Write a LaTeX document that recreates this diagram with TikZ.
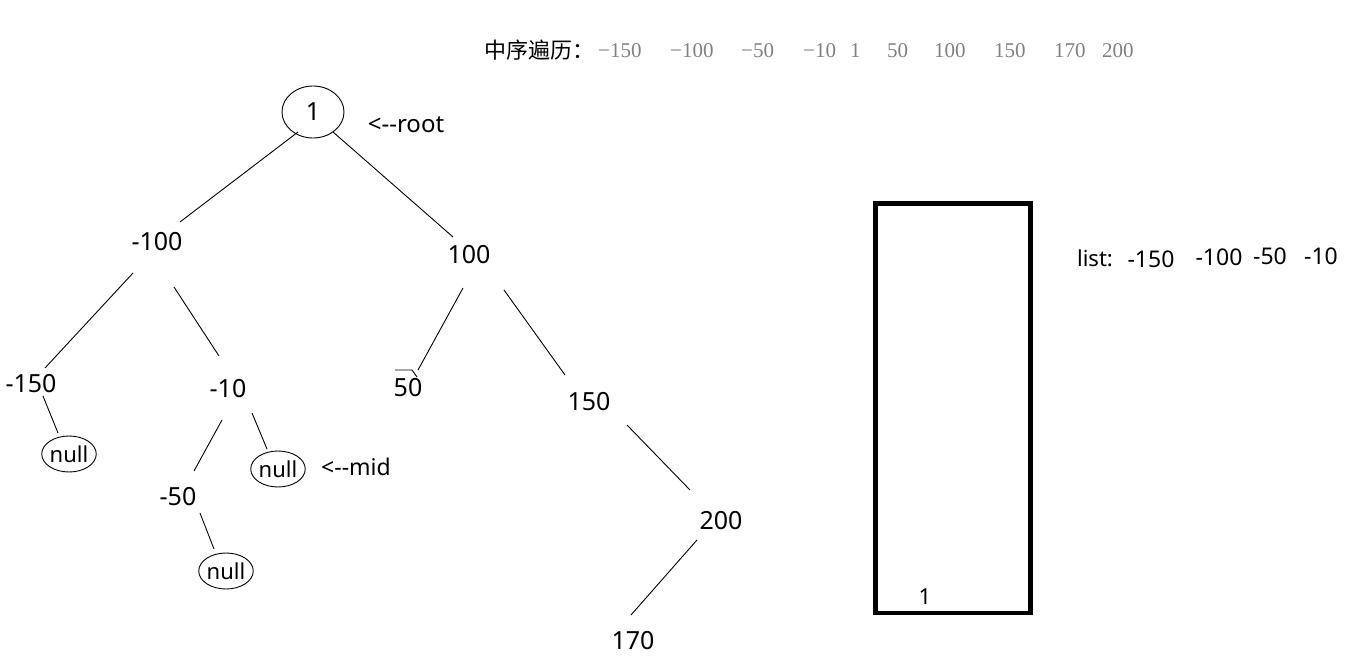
\documentclass[tikz,border=0pt]{standalone}
\usepackage{fontspec}
\setmainfont{Noto Sans}
\newfontfamily\cjk{Noto Sans CJK SC}
\newfontfamily\serifnum{Liberation Serif}
\usetikzlibrary{calc,shapes.geometric}
\definecolor{numgray}{RGB}{128,128,128}
\begin{document}
\begin{tikzpicture}[x=1pt,y=-1pt,
  lbl/.style={inner sep=0pt,font=\fontsize{25}{28}\selectfont},
  nullnode/.style={draw,ellipse,line width=0.9pt,minimum width=48pt,minimum height=36pt,inner sep=0pt,font=\fontsize{22}{26}\selectfont},
  note/.style={inner sep=0pt,font=\fontsize{23}{27}\selectfont},
  edge/.style={line width=0.9pt},
  topnum/.style={inner sep=0pt,anchor=west,text=numgray,font=\serifnum\fontsize{21}{25}\selectfont},
  listnum/.style={inner sep=0pt,font=\fontsize{23}{27}\selectfont}]
\useasboundingbox (0,0) rectangle (1345,660);

% heading
\node[inner sep=0pt,anchor=west,font=\cjk\fontsize{22}{26}\selectfont] (head) at (484,50) {中序遍历：};
\node[topnum] (t1) at (598,51) {−150};
\node[topnum] (t2) at (670,51) {−100};
\node[topnum] (t3) at (741,51) {−50};
\node[topnum] (t4) at (803,51) {−10};
\node[topnum] (t5) at (850,51) {1};
\node[topnum] (t6) at (887,51) {50};
\node[topnum] (t7) at (934,51) {100};
\node[topnum] (t8) at (994,51) {150};
\node[topnum] (t9) at (1054,51) {170};
\node[topnum] (t10) at (1102,51) {200};

% tree nodes
\node[draw,ellipse,line width=0.9pt,minimum width=62pt,minimum height=52pt,inner sep=0pt,font=\fontsize{25}{28}\selectfont] (root) at (313,112) {1};
\node[note,font=\fontsize{24}{28}\selectfont] (rootlbl) at (406,125) {<-{}-root};
\node[lbl] (m100) at (157,242) {-100};
\node[lbl] (p100) at (469,255) {100};
\node[lbl] (m150) at (31,384) {-150};
\node[lbl] (m10) at (228,389) {-10};
\node[lbl] (p50) at (408,388) {50};
\node[lbl] (p150) at (589,402) {150};
\node[nullnode] (null1) at (69,454) {null};
\node[nullnode] (null2) at (278,469) {null};
\node[note] (midlbl) at (356,467) {<-{}-mid};
\node[lbl] (m50) at (178,497) {-50};
\node[nullnode] (null3) at (226,571) {null};
\node[lbl] (p200) at (721,521) {200};
\node[lbl] (p170) at (633,641) {170};

% edges
\draw[edge] ($(root)+(-15,20)$) -- ($(m100)+(23,-20)$);
\draw[edge] ($(root)+(20,20)$) -- ($(p100)+(-16,-18)$);
\draw[edge] ($(m100)+(-24,31)$) -- ($(m150)+(14,-16)$);
\draw[edge] ($(m100)+(17,45)$) -- ($(m10)+(-9,-33)$);
\draw[edge] ($(m150)+(12,12)$) -- ($(null1)+(-11,-21)$);
\draw[edge] ($(m10)+(-6,31)$) -- ($(m50)+(16,-26)$);
\draw[edge] ($(m10)+(24,24)$) -- ($(null2)+(-11,-20)$);
\draw[edge] ($(m50)+(22,16)$) -- ($(null3)+(-12,-22)$);
\draw[edge] ($(p100)+(-6,33)$) -- ($(p50)+(10,-18)$);
\draw[edge] ($(p50)+(-13,-18)$) -- ++(17,0) -- ++(5,7);
\draw[edge] ($(p100)+(35,35)$) -- ($(p150)+(-24,-27)$);
\draw[edge] ($(p150)+(38,23)$) -- ($(p200)+(-31,-31)$);
\draw[edge] ($(p200)+(-24,19)$) -- ($(p170)+(-2,-26)$);

% stack box
\node[draw,line width=4.5pt,minimum width=155pt,minimum height=409.5pt,inner sep=0pt] (stack) at (953,408.3) {};
\node[inner sep=0pt,font=\fontsize{22}{26}\selectfont] (one) at (925,597) {1};

% list
\node[listnum,font=\fontsize{22}{26}\selectfont] (listlbl) at (1095,258) {list:};
\node[listnum] (l1) at (1151,259) {-150};
\node[listnum] (l2) at (1219,257) {-100};
\node[listnum] (l3) at (1270,256) {-50};
\node[listnum] (l4) at (1321,256) {-10};
\end{tikzpicture}
\end{document}
